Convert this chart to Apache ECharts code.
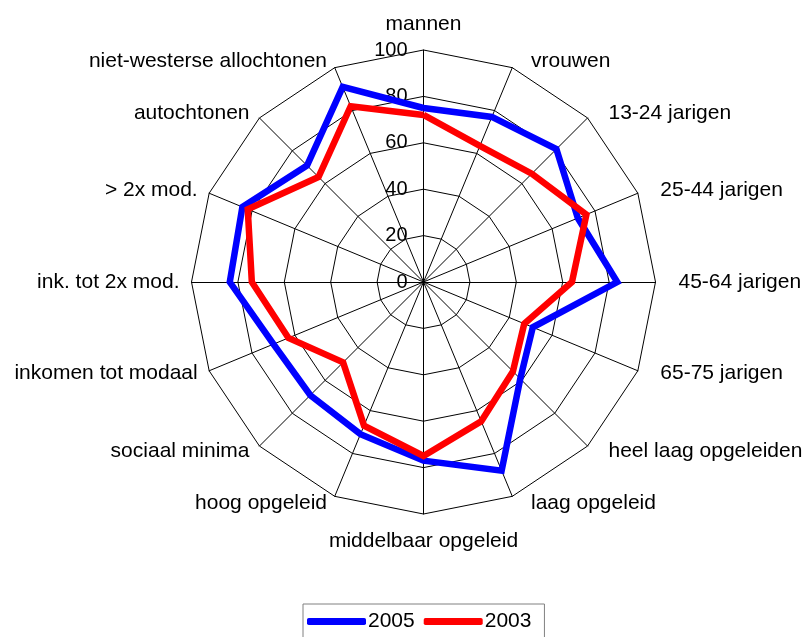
<!DOCTYPE html>
<html><head><meta charset="utf-8">
<script src="https://cdn.jsdelivr.net/npm/echarts@6/dist/echarts.min.js"></script>
<style>html,body{margin:0;padding:0;background:#fff}#c{width:806px;height:637px}</style>
</head><body><div id="c"></div>
<script>
// clockwise order starting at top
const categories = ['mannen','vrouwen','13-24 jarigen','25-44 jarigen','45-64 jarigen','65-75 jarigen','heel laag opgeleiden','laag opgeleid','middelbaar opgeleid','hoog opgeleid','sociaal minima','inkomen tot modaal','ink. tot 2x mod.','> 2x mod.','autochtonen','niet-westerse allochtonen'];
const values2005 = [75, 77, 81, 72, 83.5, 51, 59, 88, 77, 71, 69, 70, 83.5, 84.5, 71, 91];
const values2003 = [72, 63.5, 66, 76, 64, 47, 54.5, 65, 75, 67, 49, 63, 74, 82, 64, 82];
const tickMax = 100;
const tickStep = 20;

// ECharts radar runs counter-clockwise: reorder so the picture reads clockwise
function cw(arr){ return [arr[0]].concat(arr.slice(1).reverse()); }

const font = 'Liberation Sans, Arial, sans-serif';
const n = categories.length;
const indClockwise = categories.map((name,i)=>{
  const s = Math.sin(i*2*Math.PI/n);
  const o = {name:name, max:tickMax, min:0};
  if (s > 0.1) { o.nameGap = 7; o.nameTextStyle = {padding:[0,0,0,16]}; }
  else if (s < -0.1) { o.nameGap = 7; o.nameTextStyle = {padding:[0,5,0,0]}; }
  else if (i === 0) { o.nameGap = 15; }
  else { o.nameGap = 17; }
  if (i === 0) { o.axisLabel = {show:true}; }
  return o;
});

const chart = echarts.init(document.getElementById('c'));
chart.setOption({
  animation:false,
  legend:{
    data:['2005','2003'],
    top:604, left:303,
    icon:'roundRect', itemWidth:59, itemHeight:7, itemGap:9,
    borderColor:'#808080', borderWidth:1, padding:[7,13,12,4],
    textStyle:{fontFamily:font, fontSize:21, color:'#000', padding:[0,0,0,-3]}
  },
  radar:{
    center:[423.5,282], radius:232, shape:'polygon', splitNumber:tickMax/tickStep,
    indicator:cw(indClockwise),
    nameGap:7,
    axisName:{color:'#000', fontFamily:font, fontSize:21},
    axisLine:{lineStyle:{color:'#000', width:1}},
    splitLine:{lineStyle:{color:'#000', width:1}},
    splitArea:{show:false},
    axisTick:{show:false},
    axisLabel:{show:false, color:'#000', fontFamily:font, fontSize:20, margin:16}
  },
  series:[{
    type:'radar', symbol:'none',
    data:[
      {name:'2005', value:cw(values2005), lineStyle:{color:'#0000ff', width:6.5, join:'miter'}, itemStyle:{color:'#0000ff'}},
      {name:'2003', value:cw(values2003), lineStyle:{color:'#ff0000', width:6.5, join:'miter'}, itemStyle:{color:'#ff0000'}}
    ]
  }]
});
</script></body></html>
